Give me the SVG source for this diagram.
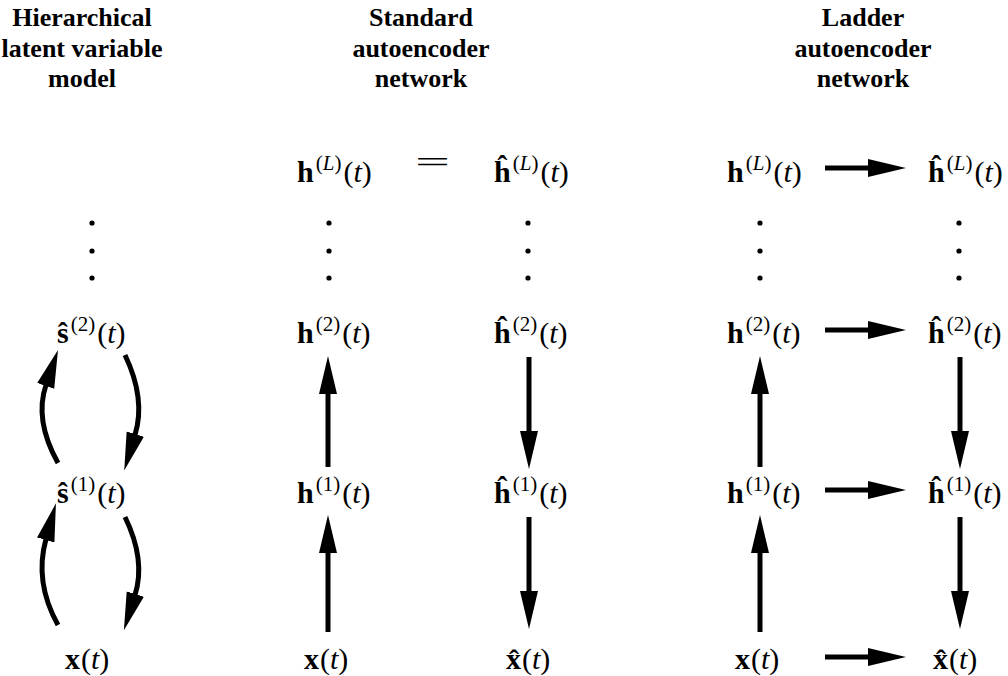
<svg xmlns="http://www.w3.org/2000/svg" width="1008" height="676" viewBox="0 0 1008 676">
<style>
.t{font-family:"Liberation Serif","Times New Roman",serif;font-weight:bold;font-size:26px;text-anchor:middle;fill:#000}
.m{font-family:"Liberation Serif","Times New Roman",serif;font-size:30px;fill:#000}
.b{font-weight:bold}
.i{font-style:italic}
.s{font-size:21px}
.ln{stroke:#000;stroke-width:5;fill:none;marker-end:url(#ah)}
.dot{fill:#000}
</style>
<defs>
<marker id="ah" markerUnits="userSpaceOnUse" markerWidth="40" markerHeight="20" refX="1" refY="9" orient="auto">
<path d="M0,0 L38,9 L0,18 z" fill="#000"/>
</marker>
</defs>
<rect width="1008" height="676" fill="#fff"/>
<g id="titles">
<g id="title-hier"><text class="t" x="82" y="26">Hierarchical</text><text class="t" x="82" y="57">latent variable</text><text class="t" x="82" y="87">model</text></g>
<g id="title-std"><text class="t" x="421" y="26">Standard</text><text class="t" x="421" y="57">autoencoder</text><text class="t" x="421" y="87">network</text></g>
<g id="title-ladder"><text class="t" x="863" y="26">Ladder</text><text class="t" x="863" y="57">autoencoder</text><text class="t" x="863" y="87">network</text></g>
</g>
<g id="col1">
<g id="s2"><text class="m" x="57" y="343"><tspan class="b">ŝ</tspan><tspan class="s" dx="2" dy="-12">(2)</tspan><tspan dx="2" dy="12">(<tspan class="i">t</tspan>)</tspan></text></g>
<g id="s1"><text class="m" x="57" y="503"><tspan class="b">ŝ</tspan><tspan class="s" dx="2" dy="-12">(1)</tspan><tspan dx="2" dy="12">(<tspan class="i">t</tspan>)</tspan></text></g>
<g id="x1"><text class="m" x="65" y="669"><tspan class="b">x</tspan><tspan dx="1">(</tspan><tspan class="i">t</tspan>)</text></g>
<g id="dots1"><circle class="dot" cx="92" cy="223" r="2.6"/><circle class="dot" cx="92" cy="251" r="2.6"/><circle class="dot" cx="92" cy="278" r="2.6"/></g>
</g>
<g id="col2">
<g id="hL2"><text class="m" x="297" y="182"><tspan class="b">h</tspan><tspan class="s" dx="2" dy="-12">(<tspan class="i">L</tspan>)</tspan><tspan dx="2" dy="12">(<tspan class="i">t</tspan>)</tspan></text></g>
<g id="eq"><text class="m" x="415" y="172" textLength="35" lengthAdjust="spacingAndGlyphs">=</text></g>
<g id="hhL2"><text class="m" x="494" y="182"><tspan class="b">ĥ</tspan><tspan class="s" dx="2" dy="-12">(<tspan class="i">L</tspan>)</tspan><tspan dx="2" dy="12">(<tspan class="i">t</tspan>)</tspan></text></g>
<g id="dots2"><circle class="dot" cx="329" cy="223" r="2.6"/><circle class="dot" cx="329" cy="251" r="2.6"/><circle class="dot" cx="329" cy="278" r="2.6"/><circle class="dot" cx="528" cy="223" r="2.6"/><circle class="dot" cx="528" cy="251" r="2.6"/><circle class="dot" cx="528" cy="278" r="2.6"/></g>
<g id="h2b"><text class="m" x="297" y="343"><tspan class="b">h</tspan><tspan class="s" dx="2" dy="-12">(2)</tspan><tspan dx="2" dy="12">(<tspan class="i">t</tspan>)</tspan></text></g>
<g id="hh2b"><text class="m" x="494" y="343"><tspan class="b">ĥ</tspan><tspan class="s" dx="2" dy="-12">(2)</tspan><tspan dx="2" dy="12">(<tspan class="i">t</tspan>)</tspan></text></g>
<g id="h1b"><text class="m" x="297" y="503"><tspan class="b">h</tspan><tspan class="s" dx="2" dy="-12">(1)</tspan><tspan dx="2" dy="12">(<tspan class="i">t</tspan>)</tspan></text></g>
<g id="hh1b"><text class="m" x="494" y="503"><tspan class="b">ĥ</tspan><tspan class="s" dx="2" dy="-12">(1)</tspan><tspan dx="2" dy="12">(<tspan class="i">t</tspan>)</tspan></text></g>
<g id="x2"><text class="m" x="304" y="669"><tspan class="b">x</tspan><tspan dx="1">(</tspan><tspan class="i">t</tspan>)</text></g>
<g id="xh2"><text class="m" x="506" y="669"><tspan class="b">x̂</tspan><tspan dx="1">(</tspan><tspan class="i">t</tspan>)</text></g>
</g>
<g id="col3">
<g id="hL3"><text class="m" x="727" y="182"><tspan class="b">h</tspan><tspan class="s" dx="2" dy="-12">(<tspan class="i">L</tspan>)</tspan><tspan dx="2" dy="12">(<tspan class="i">t</tspan>)</tspan></text></g>
<g id="hhL3"><text class="m" x="928" y="182"><tspan class="b">ĥ</tspan><tspan class="s" dx="2" dy="-12">(<tspan class="i">L</tspan>)</tspan><tspan dx="2" dy="12">(<tspan class="i">t</tspan>)</tspan></text></g>
<g id="dots3"><circle class="dot" cx="760" cy="223" r="2.6"/><circle class="dot" cx="760" cy="251" r="2.6"/><circle class="dot" cx="760" cy="278" r="2.6"/><circle class="dot" cx="959" cy="223" r="2.6"/><circle class="dot" cx="959" cy="251" r="2.6"/><circle class="dot" cx="959" cy="278" r="2.6"/></g>
<g id="h2c"><text class="m" x="727" y="343"><tspan class="b">h</tspan><tspan class="s" dx="2" dy="-12">(2)</tspan><tspan dx="2" dy="12">(<tspan class="i">t</tspan>)</tspan></text></g>
<g id="hh2c"><text class="m" x="928" y="343"><tspan class="b">ĥ</tspan><tspan class="s" dx="2" dy="-12">(2)</tspan><tspan dx="2" dy="12">(<tspan class="i">t</tspan>)</tspan></text></g>
<g id="h1c"><text class="m" x="727" y="503"><tspan class="b">h</tspan><tspan class="s" dx="2" dy="-12">(1)</tspan><tspan dx="2" dy="12">(<tspan class="i">t</tspan>)</tspan></text></g>
<g id="hh1c"><text class="m" x="928" y="503"><tspan class="b">ĥ</tspan><tspan class="s" dx="2" dy="-12">(1)</tspan><tspan dx="2" dy="12">(<tspan class="i">t</tspan>)</tspan></text></g>
<g id="x3"><text class="m" x="735" y="669"><tspan class="b">x</tspan><tspan dx="1">(</tspan><tspan class="i">t</tspan>)</text></g>
<g id="xh3"><text class="m" x="933" y="669"><tspan class="b">x̂</tspan><tspan dx="1">(</tspan><tspan class="i">t</tspan>)</text></g>
</g>
<g id="connectors">
<path class="ln" d="M58,463 Q34,420 46,385"/>
<path class="ln" d="M125,355 Q146,399 135,435"/>
<path class="ln" d="M58,625 Q34,582 46,539"/>
<path class="ln" d="M125,517 Q146,560 135,595"/>
<path class="ln" d="M328,632 V552"/>
<path class="ln" d="M328,467 V393"/>
<path class="ln" d="M529,357 V432"/>
<path class="ln" d="M529,517 V592"/>
<path class="ln" d="M760,632 V552"/>
<path class="ln" d="M760,467 V393"/>
<path class="ln" d="M960,357 V432"/>
<path class="ln" d="M960,517 V592"/>
<path class="ln" d="M825,168 H869"/>
<path class="ln" d="M825,330 H869"/>
<path class="ln" d="M825,490 H869"/>
<path class="ln" d="M825,657 H869"/>
</g>
</svg>
